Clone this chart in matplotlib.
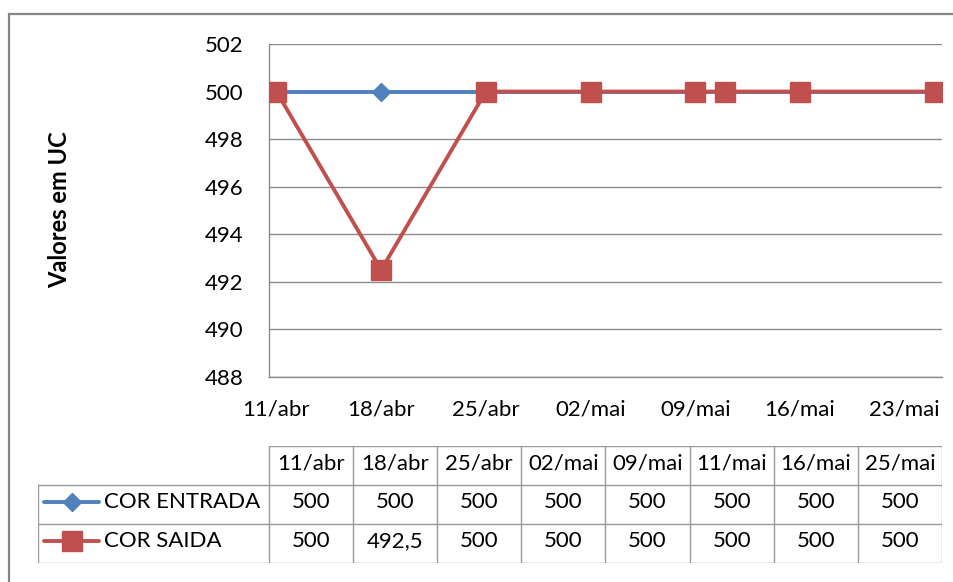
import numpy as np
import pandas as pd
import matplotlib
matplotlib.use('Agg')
import matplotlib.pyplot as plt
from matplotlib.patches import Rectangle
from matplotlib.lines import Line2D

plt.rcParams['font.family'] = ['Lato', 'DejaVu Sans']

# dados
datas = ['2011-04-11', '2011-04-18', '2011-04-25', '2011-05-02',
         '2011-05-09', '2011-05-11', '2011-05-16', '2011-05-25']
cor_entrada = [500, 500, 500, 500, 500, 500, 500, 500]
cor_saida = [500, 492.5, 500, 500, 500, 500, 500, 500]
series = ['COR ENTRADA', 'COR SAIDA']
meses = ['jan', 'fev', 'mar', 'abr', 'mai', 'jun',
         'jul', 'ago', 'set', 'out', 'nov', 'dez']
y_ticks = [488, 490, 492, 494, 496, 498, 500, 502]

azul = '#4F81BD'
vermelho = '#C0504D'
cinza = '#8C8C8C'
fs = 16

dt = pd.to_datetime(datas)


def rotulo(d):
    return '%02d/%s' % (d.day, meses[d.month - 1])


W, H = 954, 582
fig = plt.figure(figsize=(W / 100, H / 100), dpi=100)

# moldura do grafico
fig.patches.append(Rectangle((9 / W, -0.1), 1.2, 1 - 14 / H + 0.1, transform=fig.transFigure,
                             fill=False, edgecolor='#868686', lw=1.6))

x0, x1, y0, y1 = 269, 942, 44, 377
ax = fig.add_axes([x0 / W, 1 - y1 / H, (x1 - x0) / W, (y1 - y0) / H])

ax.plot(dt, cor_entrada, color=azul, lw=2.8, marker='D', ms=9, zorder=3)
ax.plot(dt, cor_saida, color=vermelho, lw=2.8, marker='s', ms=15, zorder=4)

ax.set_ylim(488, 502)
ax.set_yticks(y_ticks)
ax.set_xlim(dt[0] - pd.Timedelta(hours=12), dt[-1] + pd.Timedelta(hours=12))
xt = pd.date_range(dt[0], dt[-1], freq='7D')
ax.set_xticks(xt)
ax.set_xticklabels([rotulo(d) for d in xt])
ax.tick_params(length=0, labelsize=fs, colors='black')
ax.tick_params(axis='y', pad=18.5)
ax.tick_params(axis='x', pad=16)
ax.grid(axis='y', color=cinza, lw=1)
ax.set_axisbelow(True)
for s in ['top', 'right']:
    ax.spines[s].set_visible(False)
for s in ['left', 'bottom']:
    ax.spines[s].set_color(cinza)
    ax.spines[s].set_linewidth(1)

fig.text(60 / W, 1 - 210 / H, 'Valores em UC', rotation=90, ha='center', va='center',
         fontsize=17, fontweight='bold')

# tabela de dados
n = len(datas)
cw = (x1 - x0) / n
lw_lab = (x0 - 38) / cw
tax = fig.add_axes([38 / W, 1 - 563 / H, (x1 - 38) / W, (563 - 446) / H])
tax.set_xlim(-lw_lab, n)
tax.set_ylim(3, 0)
tax.axis('off')
tc = '#9A9A9A'
tax.plot([0, n], [0, 0], color=tc, lw=1)
for r in [1, 2, 3]:
    tax.plot([-lw_lab, n], [r, r], color=tc, lw=1)
for c in range(n + 1):
    tax.plot([c, c], [0, 3], color=tc, lw=1)
tax.plot([-lw_lab, -lw_lab], [1, 3], color=tc, lw=1)

dy = 0.06  # texto um pouco acima do centro
for i, d in enumerate(dt):
    tax.text(i + 0.5, 0.5 - dy, rotulo(d), ha='center', va='center', fontsize=fs)

valores = [cor_entrada, cor_saida]
cores = [azul, vermelho]
marcas = [('D', 9), ('s', 15)]
for r, vals in enumerate(valores):
    for i, v in enumerate(vals):
        tax.text(i + 0.5, r + 1.5 - dy, ('%g' % v).replace('.', ','), ha='center', va='center',
                 fontsize=fs)
    tax.text((104 - x0) / cw, r + 1.5 - dy, series[r], ha='left', va='center', fontsize=fs)
    tax.add_line(Line2D([(44 - x0) / cw, (99 - x0) / cw], [r + 1.5 - dy, r + 1.5 - dy],
                        color=cores[r], lw=2.8, solid_capstyle='round'))
    tax.plot([(72 - x0) / cw], [r + 1.5 - dy], marker=marcas[r][0], ms=marcas[r][1],
             color=cores[r], ls='none')

fig.savefig('out.png', dpi=100)
